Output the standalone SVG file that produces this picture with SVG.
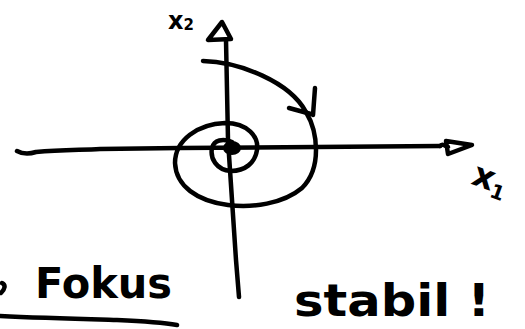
<svg xmlns="http://www.w3.org/2000/svg" width="525" height="329" viewBox="0 0 525 329">
<style>
.ink{fill:none;stroke:#000;stroke-width:4.5;stroke-linecap:round;stroke-linejoin:round}
.lbl{font-family:"DejaVu Sans","Liberation Sans",sans-serif;fill:#000;font-weight:bold}
</style>
<rect width="525" height="329" fill="#fff"/>
<g id="connectors">
  <path class="ink" d="M17,151 C24,155 30,154 36,152 C60,150 80,150 100,149 L180,148 L440,146"/>
  <path class="ink" d="M440,146 C444,142 446,148 448,147 M446,141 L472,145 L448,154 Z"/>
  <path class="ink" d="M226,40 L228,140 L233,215 L236,260 L239,297"/>
  <path class="ink" d="M222,22 L208,40 L231,39 Z"/>
  <path class="ink" d="M203,61 C240,62 290,82 306,112 C318,132 322,168 302,188 C283,204 252,208 228,205 C197,201 176,186 175,163 C175,140 198,124 225,123 C248,123 259,137 257,150 C255,163 245,171 231,171 C216,170 210,158 212,148 C214,140 223,138 232,142"/>
  <path class="ink" d="M289,108 L311,114 M315,88 L313,115"/>
  <ellipse cx="232" cy="148" rx="9" ry="7" fill="#000"/>
</g>
<g id="label-x2">
  <text class="lbl" x="168" y="29" font-size="24">x<tspan font-size="15" dy="1">2</tspan></text>
</g>
<g id="label-x1">
  <text class="lbl" x="473" y="190" font-size="34" transform="rotate(20 490 178)">x<tspan font-size="20" dy="6">1</tspan></text>
</g>
<g id="label-fokus">
  <path class="ink" d="M2,283 C6,285 5,289 1,293"/>
  <text class="lbl" x="35" y="298" font-size="42" textLength="137" lengthAdjust="spacingAndGlyphs">Fokus</text>
  <path class="ink" d="M0,316 C40,318 80,319 117,320 C140,321 160,322 177,325"/>
</g>
<g id="label-stabil">
  <text class="lbl" x="294" y="316" font-size="44" textLength="196" lengthAdjust="spacingAndGlyphs">stabil !</text>
</g>
</svg>
